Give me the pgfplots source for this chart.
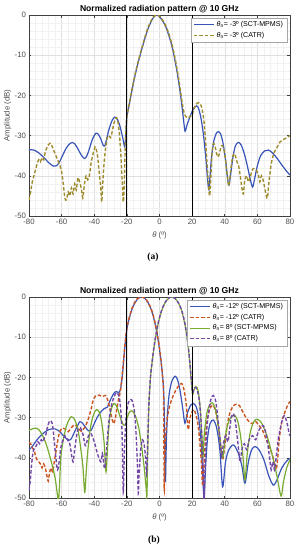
\documentclass[border=0pt]{standalone}
\usepackage{fontspec}
\setmainfont{Liberation Sans}
\newfontfamily\capfont{Liberation Serif}
\usepackage{pgfplots}
\pgfplotsset{compat=1.18}
\definecolor{mblue}{rgb}{0.22,0.33,0.72}
\definecolor{molive}{rgb}{0.62,0.55,0.18}
\definecolor{mred}{rgb}{0.80,0.33,0.12}
\definecolor{mgreen}{rgb}{0.47,0.67,0.19}
\definecolor{mpurple}{rgb}{0.45,0.28,0.65}
\definecolor{axcol}{rgb}{0.25,0.25,0.25}
\definecolor{tickcol}{rgb}{0.3,0.3,0.3}
\pgfplotsset{rp/.style={
 scale only axis, width=261pt, height=201pt,
 xmin=-80,xmax=80,ymin=-50,ymax=0,
 xtick={-80,-60,...,80}, ytick={-50,-40,...,0},
 minor x tick num=4, minor y tick num=4,
 grid=both,
 major grid style={gray!25, line width=0.4pt},
 minor grid style={gray!11, line width=0.3pt},
 axis line style={axcol, line width=0.5pt},
 tick style={axcol, line width=0.5pt},
 major tick length=2.5pt, minor tick length=0pt,
 tick align=inside,
 ticklabel style={font=\fontsize{7.8}{9}\selectfont, text=tickcol},
 xticklabel style={inner sep=3pt},
 yticklabel style={inner sep=2.8pt},
 /pgf/number format/assume math mode=true,
 xlabel={\textit{θ} (º)}, ylabel={Amplitude (dB)},
 label style={font=\fontsize{7.8}{9}\selectfont, text=tickcol},
 xlabel style={at={(axis description cs:0.5,0)},anchor=center,yshift=-19.5pt},
 ylabel style={at={(axis description cs:-0.082,0.5)},anchor=center},
 title style={font=\fontsize{8.6}{10}\selectfont\bfseries, at={(axis description cs:0.5,1)}, anchor=base, yshift=-2.5pt, inner sep=0pt},
 title={Normalized radiation pattern @ 10 GHz},
 legend cell align=left,
 legend style={at={(axis description cs:1,1)}, anchor=north east, xshift=-3pt, yshift=-2.5pt, font=\fontsize{7.1}{8.4}\selectfont, draw=gray!70, line width=0.4pt, inner sep=1.8pt, fill=white},
 legend image code/.code={\draw[#1] (0pt,0pt) -- (20pt,0pt);},
 every axis plot/.append style={smooth, tension=0.5},
}}
\tikzset{sol/.style={line width=1.2pt}, dsh/.style={line width=1.4pt, dash pattern=on 3.5pt off 2pt}}
\begin{document}
\begin{tikzpicture}
\path[use as bounding box] (0pt,0pt) rectangle (299pt,-550pt);
\begin{axis}[rp, at={(29pt,-216pt)}, anchor=south west]
\addplot[mblue, sol] coordinates {
(-80,-33.5) (-77,-33.6) (-74,-34.3) (-71,-35.4) (-68,-36.7) (-65,-37.6) (-63,-37.5) (-61,-36.3) (-59,-34.6) (-57,-33.0) (-55,-32.0) (-53.5,-31.7) (-52,-32.0) (-50,-33.3) (-48,-34.8) (-46,-35.7) (-44.5,-35.0) (-43,-33.3) (-41,-30.8) (-39,-29.4) (-37.5,-29.7) (-36,-30.8) (-34.5,-32.4) (-33.5,-32.5) (-32.5,-31) (-31,-28.5) (-29,-26.2) (-27.3,-25.4) (-25.5,-26.2) (-24,-28.0) (-22.5,-30.6) (-21.3,-32.8) (-20.6,-29.5) (-20,-25.3)
(-19,-23.2) (-18,-21.1) (-17,-19.0) (-16,-17.0) (-15,-15.1) (-14,-13.3) (-13,-11.7) (-12,-10.2) (-11,-8.7) (-10,-7.3) (-9,-5.9) (-8,-4.6) (-7,-3.4) (-6,-2.4) (-5,-1.5) (-4,-0.8) (-3,-0.3) (-2,0) (-1,-0.1) (0,-0.4) (1,-0.9) (2,-1.5) (3,-2.2) (4,-3.1) (5,-4.2) (6,-5.4) (7,-6.8) (8,-8.4) (9,-10.3) (10,-12.4) (11,-14.7) (12,-17.3) (13,-20.2) (14,-23.5) (15,-27.0) (15.7,-28.9) (17,-27.2) (18.5,-25.5) (20,-24.0) (21.5,-22.9) (22.8,-22.6) (24,-23.3) (25.5,-25.8) (27,-30) (28.5,-36) (29.5,-41) (30.3,-43.5) (31,-40) (32,-35) (33.5,-31) (35,-29.3) (36,-29.0) (37.5,-29.6) (39,-32) (40.5,-36) (41.7,-40.5) (42.6,-42.3) (43.5,-40) (45,-35.5) (46.5,-32.6) (48.3,-31.7) (50,-32.3) (52,-34.5) (54,-37.8) (56,-41.5) (57.1,-42.8) (58.2,-41) (60,-37.5) (62,-35) (64.5,-33.8) (66.7,-33.6) (69,-34.2) (72,-35.6) (75,-37.3) (78,-38.9) (80,-39.8)};
\addlegendentry{\textit{θ}\textsubscript{n}= -3º (SCT-MPMS)}
\addplot[molive, dsh] coordinates {
(-80,-46) (-79,-44) (-78,-41.5) (-77,-40) (-76,-38.5) (-75,-37) (-74,-36) (-73,-36.5) (-72,-35.5) (-71,-36) (-70,-34) (-69,-33) (-68,-32.2) (-67,-31.9) (-66,-32.5) (-65,-33.5) (-64,-34.5) (-63,-35.5) (-62,-36.5) (-61,-37.5) (-60,-39) (-59,-42) (-58,-45.5) (-57,-46) (-56,-44) (-55,-45) (-54,-43) (-53,-44.5) (-52,-42) (-51,-43.5) (-50,-40.5) (-49,-41.5) (-48,-43) (-47,-45.5) (-46,-42) (-45,-40) (-44,-41) (-43,-40) (-42,-37) (-41,-35) (-40,-33.5) (-39.5,-32.8) (-39,-33) (-38,-35) (-37,-39) (-36,-43) (-35.4,-46.5) (-34.8,-42) (-34,-37) (-33,-33) (-32,-30.5) (-31,-30) (-30,-30.5) (-29,-29) (-28,-27) (-27,-25.8) (-26.3,-25.5) (-25.5,-26.5) (-24.5,-30) (-23.5,-36) (-22.8,-42) (-22.2,-46.5) (-21.6,-42) (-21,-33) (-20.5,-28) (-20,-25.5)
(-19,-23) (-18,-20.8) (-17,-18.7) (-16,-16.7) (-15,-14.8) (-14,-13) (-13,-11.4) (-12,-9.9) (-11,-8.4) (-10,-7.0) (-9,-5.6) (-8,-4.3) (-7,-3.1) (-6,-2.1) (-5,-1.3) (-4,-0.6) (-3,-0.2) (-2,0) (-1,-0.1) (0,-0.3) (1,-0.7) (2,-1.3) (3,-2.0) (4,-2.8) (5,-3.8) (6,-5.0) (7,-6.4) (8,-7.9) (9,-9.7) (10,-11.7) (11,-14.0) (12,-16.5) (13,-19.3) (14,-22.0) (15,-24.2) (16,-25.2) (17,-25.6) (18,-25.5) (19,-25.2) (20,-25) (21,-23.5) (22.5,-22.2) (24,-21.8) (25.5,-22.5) (27,-25.5) (28,-30) (29,-36) (30,-42) (30.8,-45) (31.5,-40) (32.3,-34) (33,-32) (34,-32.5) (35,-34.5) (36,-35.3) (37,-34) (38,-32.5) (39,-32.8) (40,-34.5) (41,-38) (42,-41.5) (42.6,-42.5) (43.3,-40) (44.3,-36.5) (45.5,-34.5) (46.5,-35) (47.5,-36.5) (48.5,-37.5) (49.5,-40) (50.5,-43) (51.4,-44.5) (52.3,-41) (53.5,-40) (54.5,-41.5) (55.5,-40.5) (56.5,-39) (57.5,-38.2) (59,-38.5) (60.5,-39.5) (61.5,-41.5) (62.5,-40) (63.5,-41) (64.5,-43) (65.5,-45) (66.2,-45.5) (67,-42) (68,-38.5) (69,-36) (70.5,-34) (72,-33) (74,-31.5) (76,-31) (78,-30.5) (80,-30)};
\addlegendentry{\textit{θ}\textsubscript{n}= -3º (CATR)}
\addplot[black, line width=0.9pt, sharp plot, forget plot] coordinates {(-20,-50) (-20,0)};
\addplot[black, line width=0.9pt, sharp plot, forget plot] coordinates {(20,-50) (20,0)};
\end{axis}
\begin{axis}[rp, at={(29pt,-498pt)}, anchor=south west]
\addplot[mblue, sol] coordinates {
(-80,-38) (-78,-37.2) (-76,-36) (-74,-35) (-72,-34.2) (-70,-33.5) (-68,-33) (-66,-32.8) (-64,-32.8) (-62,-33.2) (-60,-34) (-58,-34.9) (-56,-35.5) (-55,-35.6) (-54,-35.2) (-52,-33.5) (-50,-31.8) (-48.7,-31) (-47,-31.5) (-45,-32.6) (-43.5,-33.3) (-42,-33.2) (-40,-31.5) (-38,-29.8) (-36,-28.6) (-34,-27.8) (-32,-27.4) (-30,-25.5) (-28,-24) (-26.5,-23.5) (-25,-23.8) (-24,-23) (-23,-20.5) (-22,-16) (-21,-11.5) (-20,-8.0) (-19,-6.1) (-18,-4.5) (-17,-3.2) (-16,-2.2) (-15,-1.4) (-14,-0.8) (-13,-0.35) (-12,-0.1) (-11,0) (-10,-0.1) (-9,-0.35) (-8,-0.8) (-7,-1.4) (-6,-2.2) (-5,-3.2) (-4,-4.5) (-3,-6.1) (-2,-8) (-1,-10.3) (0,-13) (1,-16.2) (2,-20) (2.6,-24) (3.1,-32) (3.6,-46) (4.2,-36) (5,-28.5) (6,-24) (7.5,-21) (9.5,-19.7) (11,-20.5) (12.5,-23) (14,-27) (15.6,-31.4) (17,-29) (19,-27) (20.8,-26.5) (22.5,-27.3) (24,-30) (25.5,-36) (26.5,-44) (27.3,-50) (28.3,-42) (29.5,-35) (31,-31.5) (33,-30.6) (35,-32.5) (37,-38) (38.7,-47.2) (40.5,-41) (42.5,-38) (45.3,-36.8) (48,-38.5) (50.5,-42) (52.4,-46.3) (54.5,-41) (56.5,-38) (58.6,-37.2) (61,-38) (64,-40.5) (67,-44.5) (69.8,-46.8) (72,-45.5) (75,-42.5) (78,-40.8) (80,-40.1)};
\addlegendentry{\textit{θ}\textsubscript{n}= -12º (SCT-MPMS)}
\addplot[mred, dsh] coordinates {
(-80,-36.2) (-79,-36.5) (-78,-37.5) (-77,-38) (-76,-39.5) (-75,-40.5) (-74,-41) (-73,-41.5) (-72,-42.5) (-71,-41.5) (-70,-42.5) (-69,-44.5) (-68.2,-45.8) (-67.5,-44) (-66.5,-42.5) (-65.5,-43.5) (-64.5,-41) (-63.5,-38.5) (-62.5,-36) (-61.5,-34) (-60,-32.7) (-58,-32.8) (-56,-33.5) (-54,-32.5) (-52,-31.8) (-50,-32.5) (-48,-33.4) (-46,-32.5) (-44,-30.8) (-42,-28) (-40.5,-25.5) (-39,-24.6) (-37,-24.4) (-35,-24.8) (-33,-24.5) (-31.5,-26) (-30.3,-28) (-29,-30.5) (-28,-31.5) (-27,-30) (-26,-27.5) (-25,-25.2) (-24,-23.5) (-23,-20) (-22,-15.5) (-21,-11) (-20,-7.7) (-19,-5.8) (-18,-4.3) (-17,-3.0) (-16,-2.0) (-15,-1.2) (-14,-0.6) (-13,-0.25) (-12,-0.05) (-11,0) (-10,-0.1) (-9,-0.3) (-8,-0.7) (-7,-1.3) (-6,-2.1) (-5,-3.1) (-4,-4.3) (-3,-5.9) (-2,-7.8) (-1,-10) (0,-12.7) (1,-16) (2,-20.5) (2.5,-25) (2.9,-48) (3.4,-37) (4.5,-31) (6,-27.5) (7.5,-25.5) (9,-24) (11,-22.5) (13.6,-21.5) (15,-23) (16.5,-27) (17.6,-33) (18.5,-30.5) (19.5,-29) (21,-28) (22.5,-29.5) (24,-33) (25.5,-40) (26.5,-47) (27.5,-40) (28.5,-33) (30,-29) (31.5,-27.3) (33,-27) (34.5,-28.5) (36,-32) (37.5,-37) (38.7,-40.5) (40,-37) (41.5,-32) (43,-29) (45,-27.2) (47,-26.7) (49,-27) (51,-28.5) (53,-30) (55,-31) (57,-31.5) (59,-31) (61,-32) (63,-33) (65,-35) (67,-37) (69,-39) (70.5,-41.5) (71.5,-43) (72.5,-40) (73.5,-35) (75,-31) (77,-28.5) (78.5,-27) (80,-26)};
\addlegendentry{\textit{θ}\textsubscript{n}= -12º (CATR)}
\addplot[mgreen, sol] coordinates {
(-80,-33.2) (-78,-32.8) (-76,-32.6) (-74,-33) (-72,-34.2) (-70,-36) (-68,-38.5) (-66,-41.5) (-64,-45) (-62.8,-48.5) (-62,-51) (-61.3,-47) (-60.5,-40) (-59,-35.5) (-57,-32) (-55,-30.2) (-53.8,-29.8) (-52,-30.5) (-50,-33) (-48.5,-37) (-47,-42) (-46.2,-47) (-45.7,-48.5) (-45,-44) (-44,-38.5) (-42.5,-33) (-41,-30) (-39.5,-28.4) (-38.5,-28) (-37,-28.6) (-35.5,-31) (-34,-36) (-33.2,-41.5) (-32.8,-43.5) (-32.3,-41) (-31.5,-35) (-30.5,-30) (-29.3,-27.6) (-28,-26.5) (-26.8,-26.8) (-25.5,-28) (-24,-30) (-22.5,-31.6) (-21.1,-31.8) (-19.8,-30) (-18.5,-28.7) (-17,-28.3) (-15.5,-29) (-14,-30.5) (-12.5,-33) (-11,-37) (-9.5,-42) (-8.3,-47) (-7.7,-49.5) (-7.2,-38) (-6.5,-27) (-5.5,-20) (-4.5,-16.2) (-3.5,-13) (-2.5,-10.3) (-1.5,-8) (-0.5,-6.1) (0.5,-4.5) (1.5,-3.2) (2.5,-2.2) (3.5,-1.4) (4.5,-0.8) (5.5,-0.35) (6.5,-0.1) (7.5,0) (8.5,-0.1) (9.5,-0.35) (10.5,-0.8) (11.5,-1.4) (12.5,-2.2) (13.5,-3.3) (14.5,-4.8) (15.5,-6.7) (16.5,-9) (17.5,-12) (18.5,-16) (19.5,-21) (20.3,-24.3) (21.2,-23) (22.5,-22.3) (23.8,-23.5) (25,-28) (26,-35) (26.6,-40) (27.5,-34) (29,-29) (30.5,-27) (32.3,-26.3) (34,-27.5) (35.5,-30.5) (37,-35) (38.7,-40) (40.2,-35) (42,-31.5) (44,-29.8) (46.3,-29.5) (48,-31) (49.5,-34) (51,-39) (52.4,-45.5) (53.8,-39) (55.5,-34) (57.5,-31.2) (59.6,-30.4) (62,-31) (64.5,-33) (67,-36) (69.5,-40) (72,-44.5) (74.5,-49.5) (76,-46) (78,-42.5) (80,-40.5)};
\addlegendentry{\textit{θ}\textsubscript{n}= 8º (SCT-MPMS)}
\addplot[mpurple, dsh] coordinates {
(-80,-48) (-79.3,-46) (-78.5,-42) (-77.5,-38.5) (-76.5,-37.5) (-75.5,-37) (-74.5,-36) (-73.5,-36.5) (-72.5,-35.5) (-71.5,-36) (-70.5,-35) (-69.5,-34) (-68.5,-32) (-67.5,-31) (-66.5,-30.8) (-65.5,-32) (-64.5,-36) (-63.5,-40) (-62.5,-43) (-61.5,-41) (-60.5,-37.5) (-59.5,-36) (-58,-34.5) (-56.5,-35.5) (-55,-36.5) (-54,-39) (-53,-41) (-52,-38) (-51,-35) (-50,-33) (-48.5,-32.5) (-47,-34) (-45.5,-37) (-44.5,-36) (-43.5,-34.5) (-42,-34) (-40,-36) (-38,-39) (-36,-41) (-35,-39) (-34,-42) (-33.4,-42.5) (-32.5,-38) (-31,-31) (-29.5,-27) (-28,-25) (-26.5,-23.8) (-25,-24.5) (-24,-27) (-23,-33) (-22.2,-48.5) (-21.5,-38) (-20.5,-30) (-19.5,-27) (-18.5,-25.8) (-17,-25.6) (-15.5,-28) (-14.5,-33) (-13.5,-42) (-13,-48.8) (-12.5,-44) (-11.5,-38) (-10.5,-35.5) (-9.5,-36.5) (-8.5,-40) (-7.8,-44) (-7,-33) (-6.5,-26.5) (-5.5,-19.7) (-4.5,-16) (-3.5,-12.8) (-2.5,-10.1) (-1.5,-7.8) (-0.5,-5.9) (0.5,-4.4) (1.5,-3.1) (2.5,-2.1) (3.5,-1.3) (4.5,-0.7) (5.5,-0.3) (6.5,-0.05) (7.5,0) (8.5,-0.1) (9.5,-0.35) (10.5,-0.8) (11.5,-1.4) (12.5,-2.2) (13.5,-3.2) (14.5,-4.6) (15.5,-6.4) (16.5,-8.8) (17.5,-11.8) (18.5,-15.8) (19.5,-20.5) (20.3,-23.8) (21.5,-22.5) (23,-23) (24.5,-26) (25.5,-31) (26.5,-40) (27.3,-50) (28,-42) (29,-33) (30,-29) (31.5,-25.5) (33,-24.5) (34.5,-26) (36,-31) (37.5,-37) (38.1,-39.7) (39,-37) (40.5,-34.5) (42,-36) (43,-33) (44,-30) (45.3,-29) (46.5,-31) (48,-36) (49.4,-41) (50.5,-38) (52,-36.5) (53.5,-38) (55,-35.5) (57,-34.5) (59,-35.5) (60.5,-33.5) (62,-32.5) (63.7,-32) (65,-33.5) (66.5,-37) (67.5,-40) (68.5,-43) (69.5,-41) (70.5,-43) (71.5,-40) (73,-35) (75,-31) (76.5,-29.5) (78,-31) (79,-33) (80,-34.5)};
\addlegendentry{\textit{θ}\textsubscript{n}= 8º (CATR)}
\addplot[black, line width=0.9pt, sharp plot, forget plot] coordinates {(-20,-50) (-20,0)};
\addplot[black, line width=0.9pt, sharp plot, forget plot] coordinates {(20,-50) (20,0)};
\end{axis}
\node[font=\capfont\bfseries\fontsize{9.5}{11}\selectfont] at (153pt,-257.5pt) {(a)};
\node[font=\capfont\bfseries\fontsize{9.5}{11}\selectfont] at (154pt,-540pt) {(b)};
\end{tikzpicture}
\end{document}
